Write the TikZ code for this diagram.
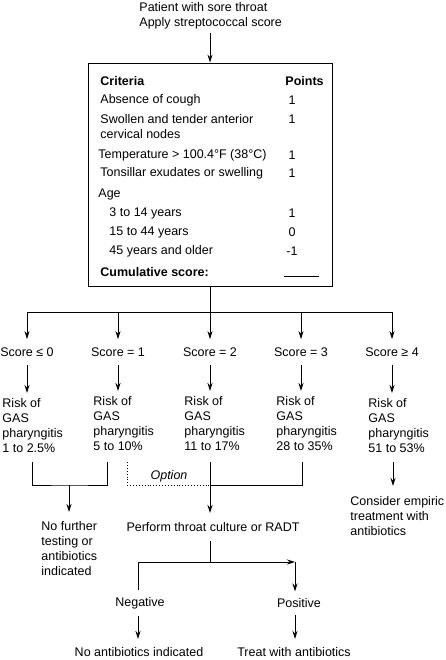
\documentclass[tikz,border=0pt]{standalone}
\usepackage{fontspec}
\setmainfont{Liberation Sans}
\usetikzlibrary{arrows.meta, positioning, calc}

\begin{document}
\begin{tikzpicture}[x=1pt, y=-1pt, >={Stealth[length=8pt, width=5pt]}, line width=0.9pt,
    every node/.style={font=\fontsize{12.5}{15}\selectfont, inner sep=0pt},
    txt/.style={anchor=west, align=left},
    lbl/.style={anchor=center, align=center, inner ysep=8pt},
    blk/.style={anchor=west, align=left, inner ysep=8pt}]
    \useasboundingbox (0,0) rectangle (445,660);

    % Patient
    \node[txt] (start) at (139,15.5) {Patient with sore throat\\Apply streptococcal score};

    % Score table
    \node[draw, minimum width=244pt, minimum height=223pt] (table) at (210,174.5) {};
    \draw[->] (table.north |- start.south) ++(0,4) -- (table.north);
    \node[txt] (crithead) at (100,81) {\textbf{Criteria}};
    \node[txt] (pointhead) at (285,81) {\textbf{Points}};
    \node[txt] (cough) at (100,100) {Absence of cough};
    \node[txt] (nodes) at (100,126.5) {Swollen and tender anterior\\cervical nodes};
    \node[txt] (temp) at (98,155) {Temperature > 100.4°F (38°C)};
    \node[txt] (tonsil) at (100,173) {Tonsillar exudates or swelling};
    \node[txt] (age) at (98,194) {Age};
    \node[txt] (agea) at (109,213) {3 to 14 years};
    \node[txt] (ageb) at (109,232) {15 to 44 years};
    \node[txt] (agec) at (109,251) {45 years and older};
    \node[txt] (total) at (100,272) {\textbf{Cumulative score:}};
    \foreach \y/\p [count=\i] in {100/1, 119/1, 155/1, 173/1, 213/1, 232/0, 251/-1}
        \node (pt\i) at (292,\y) {\p};
    \draw[line width=0.7pt] (284,276) -- (319,276);

    % Score groups
    \coordinate (split) at (210,312);
    \foreach \x/\n in {27/0, 118/1, 210/2, 301/3, 392/4}
        \coordinate (b\n) at (\x,312);
    \draw (table.south) -- (split);
    \draw (b0) -- (b4);
    \node[lbl] (s0) at (27,352) {Score ≤ 0};
    \node[lbl] (s1) at (118,352) {Score = 1};
    \node[lbl] (s2) at (210,352) {Score = 2};
    \node[lbl] (s3) at (301,352) {Score = 3};
    \node[lbl] (s4) at (392,352) {Score ≥ 4};
    \node[blk, inner ysep=5pt] (r0) at (2,425.5) {Risk of\\GAS\\pharyngitis\\1 to 2.5\%};
    \node[blk, inner ysep=5pt] (r1) at (93,423.5) {Risk of\\GAS\\pharyngitis\\5 to 10\%};
    \node[blk, inner ysep=5pt] (r2) at (184,423.5) {Risk of\\GAS\\pharyngitis\\11 to 17\%};
    \node[blk, inner ysep=5pt] (r3) at (276,423.5) {Risk of\\GAS\\pharyngitis\\28 to 35\%};
    \node[blk, inner ysep=5pt] (r4) at (368,425.5) {Risk of\\GAS\\pharyngitis\\51 to 53\%};
    \foreach \n in {0,...,4} {
        \draw[->] (b\n) -- (s\n.north);
        \draw[->] (s\n.south) -- (s\n.south |- r\n.north);
    }

    % Outcomes
    \coordinate (j0) at (32,462);
    \coordinate (j1) at (107,462);
    \coordinate (jopt) at (127,462);
    \coordinate (j2) at (210,462);
    \coordinate (j3) at (302,462);
    \coordinate (j4) at (393,462);
    \coordinate (m01) at (69,485);
    \coordinate (m23) at (210,485);
    \node[blk, inner ysep=9pt] (nofurther) at (41,548.5) {No further\\testing or\\antibiotics\\indicated};
    \node[lbl, inner ysep=9pt] (culture) at (213,527) {Perform throat culture or RADT};
    \node[blk, inner ysep=10pt] (empiric) at (350,516) {Consider empiric\\treatment with\\antibiotics};
    \node[font=\fontsize{12.5}{15}\selectfont\itshape] (option) at (169,476) {Option};
    \draw (j0) |- (m01) -| (j1);
    \draw[->] (m01) -- (m01 |- nofurther.north);
    \draw[dotted] (jopt) |- (m23);
    \draw (j3) |- (m23);
    \draw[->] (j2) -- (j2 |- culture.north);
    \draw[->] (j4) -- (j4 |- empiric.north);

    % Test result
    \coordinate (fork) at (210,562);
    \coordinate (negc) at (138,562);
    \coordinate (posc) at (295,562);
    \node[lbl, inner ysep=6.5pt] (neg) at (140,603) {Negative};
    \node[lbl, inner ysep=6.5pt] (pos) at (299,603) {Positive};
    \node[lbl] (nobio) at (139,652) {No antibiotics indicated};
    \node[lbl] (treat) at (294,652) {Treat with antibiotics};
    \draw (fork |- culture.south) -- (fork);
    \draw (fork) -- (negc) -- (negc |- neg.north);
    \draw[->] (fork) -- (posc);
    \draw[->] (posc) -- (posc |- pos.north);
    \draw[->] (negc |- neg.south) -- (negc |- nobio.north);
    \draw[->] (posc |- pos.south) -- (posc |- treat.north);
\end{tikzpicture}
\end{document}
